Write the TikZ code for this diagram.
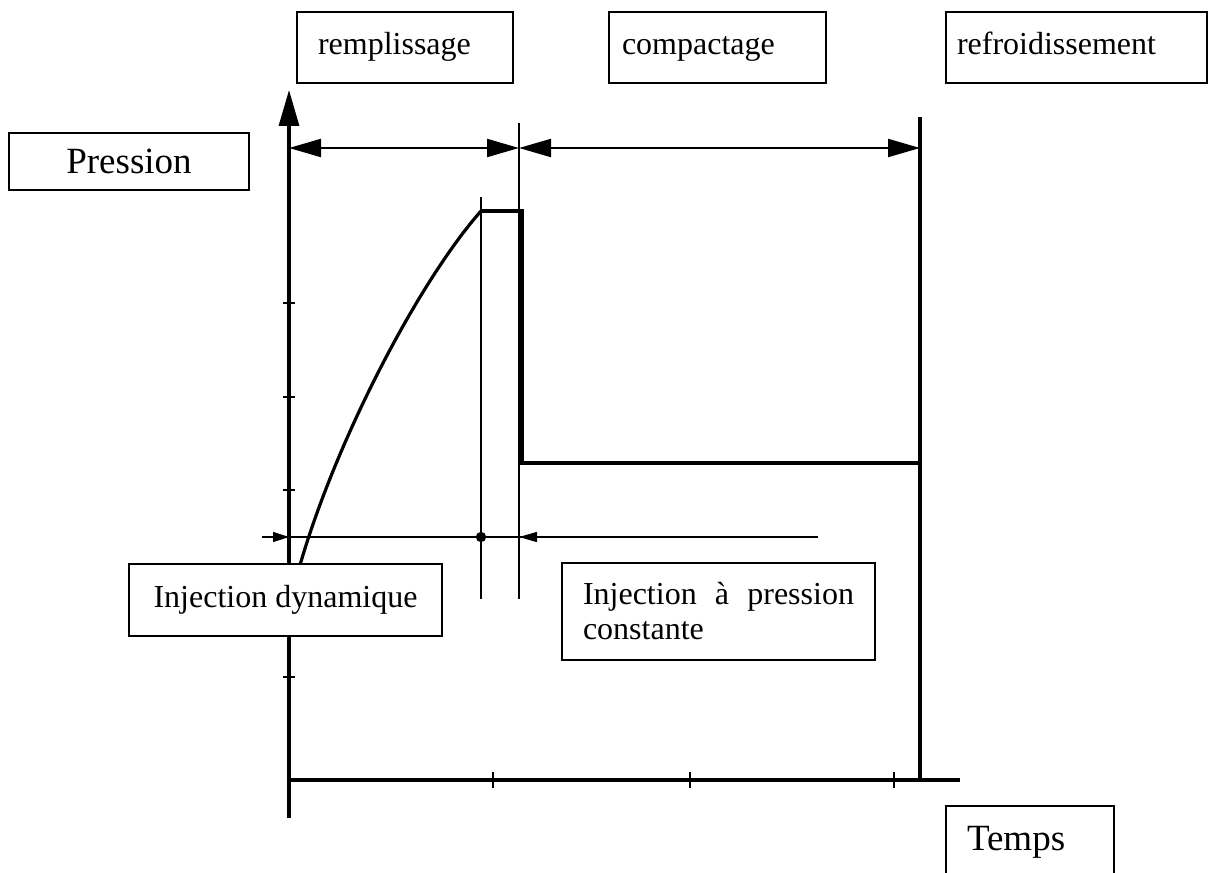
\documentclass[tikz,border=0pt]{standalone}
\usepackage{fontspec}
\setmainfont{Liberation Serif}
\usetikzlibrary{arrows.meta}

\begin{document}
\begin{tikzpicture}[
    x=0.5pt, y=-0.5pt,
    lbl/.style={rectangle, draw=black, line width=1pt, fill=white, inner ysep=0pt,
      font=\fontsize{16}{17.5}\selectfont},
    toplbl/.style={lbl, text height=11pt, text depth=3.5pt, minimum height=35.5pt, align=left},
    biglbl/.style={lbl, font=\fontsize{18.5}{21}\selectfont},
    axisline/.style={line width=1.6pt},
    guide/.style={line width=0.7pt},
    pcurve/.style={line width=1.6pt},
    tickmark/.style={line width=1pt},
    phasespan/.style={{Triangle[length=16pt,width=9pt]}-{Triangle[length=16pt,width=9pt]}, line width=1pt},
  ]
  \clip (0,0) rectangle (1209,872);
  \fill[white] (0,0) rectangle (1209,872);

  \coordinate (O)    at (289,780);
  \coordinate (ytop) at (289,90);
  \coordinate (ybot) at (289,818);
  \coordinate (xend) at (960,780);
  \coordinate (tA)   at (289,148);
  \coordinate (tB)   at (519,148);
  \coordinate (tC)   at (920,148);
  \coordinate (mA)   at (262,537);
  \coordinate (mB)   at (289,537);
  \coordinate (mC)   at (481,537);
  \coordinate (mD)   at (519,537);
  \coordinate (mE)   at (543,537);
  \coordinate (mF)   at (818,537);
  \coordinate (c0)   at (298,572);
  \coordinate (c1)   at (481,211);

  % axes
  \draw[axisline, -{Triangle[length=18pt,width=10pt]}] (ybot) -- (ytop);
  \draw[axisline] (O) -- (xend);
  \foreach \t in {493,690,894} \draw[tickmark] (\t,772) -- (\t,788);
  \foreach \t in {303,397,490,583,677} \draw[tickmark] (283,\t) -- (295,\t);

  % phase limits
  \draw[guide] (519,123) -- (519,599);
  \draw[guide] (481,197) -- (481,599);
  \draw[axisline] (920,117) -- (920,780);
  \draw[phasespan] (tA) -- (tB);
  \draw[phasespan] (tB) -- (tC);

  \draw[guide] (mA) -- (mF);
  \draw[guide, -{Triangle[length=8pt,width=5pt]}] (mA) -- (mB);
  \draw[guide, -{Triangle[length=9pt,width=5pt]}] (mE) -- (mD);
  \fill (mC) circle (2.6pt);

  % pressure curve
  \draw[pcurve] (c0) .. controls (335,440) and (420,280) .. (c1);
  \draw[pcurve] (c1) -- (522,211) -- (522,463) -- (920,463);

  % labels
  \node[toplbl, inner xsep=10.5pt, text width=87pt] (fillbox) at (405,47.5) {remplissage};
  \node[toplbl, inner xsep=6.5pt, text width=95.5pt] (packbox) at (717.5,47.5) {compactage};
  \node[toplbl, inner xsep=5.5pt, text width=119.5pt] (coolbox) at (1076.5,47.5) {refroidissement};
  \node[biglbl, minimum width=120pt, minimum height=28.5pt] (pbox) at (129,161.5) {Pression};
  \node[lbl, minimum width=156.5pt, minimum height=36pt] (dynbox) at (285.5,600) {Injection dynamique};
  \node[lbl, inner xsep=10.5pt, text width=135.5pt, minimum height=48.5pt, align=justify]
    (constbox) at (718.5,611.5) {Injection à pression constante};
  \node[biglbl, inner xsep=10.5pt, text width=63pt, minimum height=36pt, align=left]
    (tbox) at (1030,842) {Temps};
\end{tikzpicture}
\end{document}
